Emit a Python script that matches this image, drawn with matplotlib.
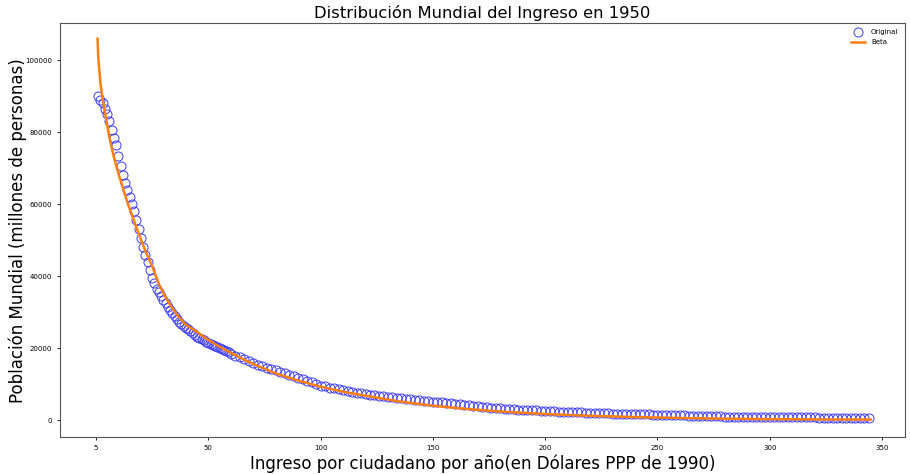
import numpy as np
import matplotlib
matplotlib.use("Agg")
import matplotlib.pyplot as plt

# observed points (ingreso vs poblacion)
x_orig = list(range(1, 61)) + list(range(62, 345, 2))
y_orig = [90000, 89000, 88000, 86500, 85000, 83000, 80500, 78500, 76500, 73500,
          70500, 68200, 66000, 64000, 62000, 60000, 58000, 55500, 53000, 50500,
          48000, 46000, 44000, 41700, 39500, 38000, 36500, 35500, 34500, 33500,
          32500, 31500, 30500, 29700, 29000, 28100, 27300, 26700, 26200, 25700,
          25200, 24700, 24200, 23700, 23200, 22850, 22500, 22150, 21800, 21500,
          21200, 20950, 20700, 20400, 20100, 19800, 19500, 19150, 18800, 18500,
          # step 2 from 62
          17950, 17450, 16950, 16450, 15950, 15450, 15000, 14600, 14200, 13800,
          13400, 13000, 12600, 12200, 11800, 11400, 11000, 10550, 10050, 9600,
          9350, 9050, 8800, 8550, 8250, 8000, 7800, 7600, 7400, 7200,
          7050, 6900, 6750, 6650, 6500, 6350, 6250, 6100, 5950, 5850,
          5700, 5550, 5450, 5300, 5150, 5050, 4900, 4750, 4650, 4500,
          4350, 4250, 4100, 3950, 3850, 3700, 3550, 3450, 3350, 3250,
          3150, 3100, 3050, 2950, 2900, 2850, 2750, 2700, 2650, 2550,
          2500, 2450, 2350, 2300, 2250, 2200, 2150, 2120, 2080, 2000,
          1970, 1930, 1900, 1870, 1830, 1800, 1770, 1730, 1700, 1670,
          1630, 1600, 1570, 1530, 1500, 1470, 1430, 1400, 1370, 1330,
          1300, 1270, 1230, 1200, 1170, 1130, 1100, 1070, 1030, 1000,
          990, 970, 960, 950, 930, 920, 910, 890, 880, 870,
          850, 840, 830, 810, 800, 790, 770, 760, 750, 730,
          720, 710, 690, 680, 670, 650, 640, 630, 610, 600,
          590, 580]

# beta fit
x_beta = [0.7, 1, 2, 3, 4, 5, 6, 8, 10, 12, 14, 16, 18, 20, 22, 25, 28, 30, 33, 36,
          40, 45, 50, 55, 60, 65, 70, 80, 90, 100, 110, 120, 135, 150, 165, 180,
          200, 220, 240, 260, 280, 300, 320, 345]
y_beta = [106000, 101000, 93500, 89000, 85500, 82000, 78500, 73000, 68500, 64500,
          60500, 57000, 53500, 50200, 47000, 42800, 37800, 35300, 32000, 29300,
          26500, 24500, 22300, 20400, 18700, 17100, 15600, 13000, 11000, 9300,
          7900, 6800, 5200, 4000, 3100, 2400, 1700, 1200, 850, 600,
          400, 280, 200, 150]

xticks = [0, 50, 100, 150, 200, 250, 300, 350]
xtick_labels = ['5', '50', '100', '150', '200', '250', '300', '350']
yticks = [0, 20000, 40000, 60000, 80000, 100000]

fig = plt.figure(figsize=(9.1, 4.74), dpi=100)
ax = fig.add_axes([0.066, 0.078, 0.928, 0.873])

ax.plot(x_orig, y_orig, 'o', markersize=6.5, markerfacecolor='none',
        markeredgecolor='#3a3aff', markeredgewidth=0.7, label='Original')
ax.plot(x_beta, y_beta, color='#ff7f0e', linewidth=1.8, label='Beta')

ax.set_xticks(xticks)
ax.set_xticklabels(xtick_labels)
ax.set_yticks(yticks)
ax.tick_params(labelsize=5, length=2.5, width=0.6)
ax.set_xlim(-16, 360)
ax.set_ylim(-4700, 110300)

for s in ax.spines.values():
    s.set_color('#555555')

ax.set_title('Distribución Mundial del Ingreso en 1950', fontsize=11.8, pad=4)
ax.set_xlabel('Ingreso por ciudadano por año(en Dólares PPP de 1990)', fontsize=12, labelpad=2)
ax.set_ylabel('Población Mundial (millones de personas)', fontsize=12, labelpad=-1.5)
ax.legend(loc='upper right', fontsize=5, frameon=False)

plt.savefig('out.png', dpi=100)
